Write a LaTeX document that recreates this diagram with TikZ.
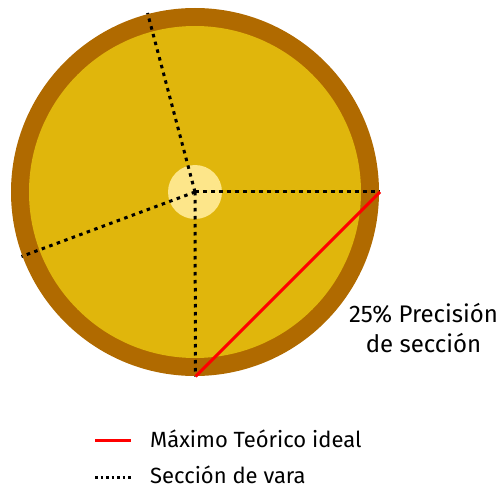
\documentclass[tikz,border=0pt]{standalone}
\usepackage{fontspec}
\setmainfont{Fira Sans}
\usetikzlibrary{positioning}
\definecolor{anillo}{HTML}{B06A00}
\definecolor{nucleo}{HTML}{E0B60C}
\definecolor{medula}{HTML}{FDE68A}
\definecolor{rojo}{HTML}{FF0000}
\begin{document}
\begin{tikzpicture}[x=1pt, y=-1pt]

	\tikzstyle{seccion}=[black, line width=3pt, dash pattern=on 3.5pt off 4.5pt]
	\tikzstyle{maximo}=[rojo, line width=3pt]
	\tikzstyle{texto}=[font=\fontsize{22}{30}\selectfont, inner sep=0pt, align=center]

	\useasboundingbox (0,0) rectangle (504,489);

	% tronco
	\coordinate (c) at (195,192);
	\fill[anillo] (c) circle[radius=184pt];
	\fill[nucleo] (c) circle[radius=166pt];
	\fill[medula] (c) circle[radius=27pt];

	% extremos de las secciones
	\coordinate (e1) at (380,192);
	\coordinate (e2) at (195.5,376.5);
	\coordinate (e3) at (147.5,13);
	\coordinate (e4) at (21.5,256.5);
	\draw[seccion] (c) -- (e1);
	\draw[seccion] (c) -- (e2);
	\draw[seccion] (c) -- (e3);
	\draw[seccion] (c) -- (e4);
	\draw[maximo] (e1) -- (e2);

	\node[texto, font=\fontsize{24}{30}\selectfont, anchor=base] (prec) at (423.5,353) {25\% Precisión\\de sección};

	% leyenda
	\coordinate (l1a) at (95,440.5);
	\coordinate (l1b) at (131,440.5);
	\coordinate (l2a) at (95,477.5);
	\coordinate (l2b) at (131,477.5);
	\draw[maximo] (l1a) -- (l1b);
	\draw[seccion, line width=2.2pt, dash pattern=on 2.5pt off 3pt] (l2a) -- (l2b);
	\node[texto, anchor=base west] (ley1) at (150,447) {Máximo Teórico ideal};
	\node[texto, anchor=base west] (ley2) at (150,483.5) {Sección de vara};

\end{tikzpicture}
\end{document}
